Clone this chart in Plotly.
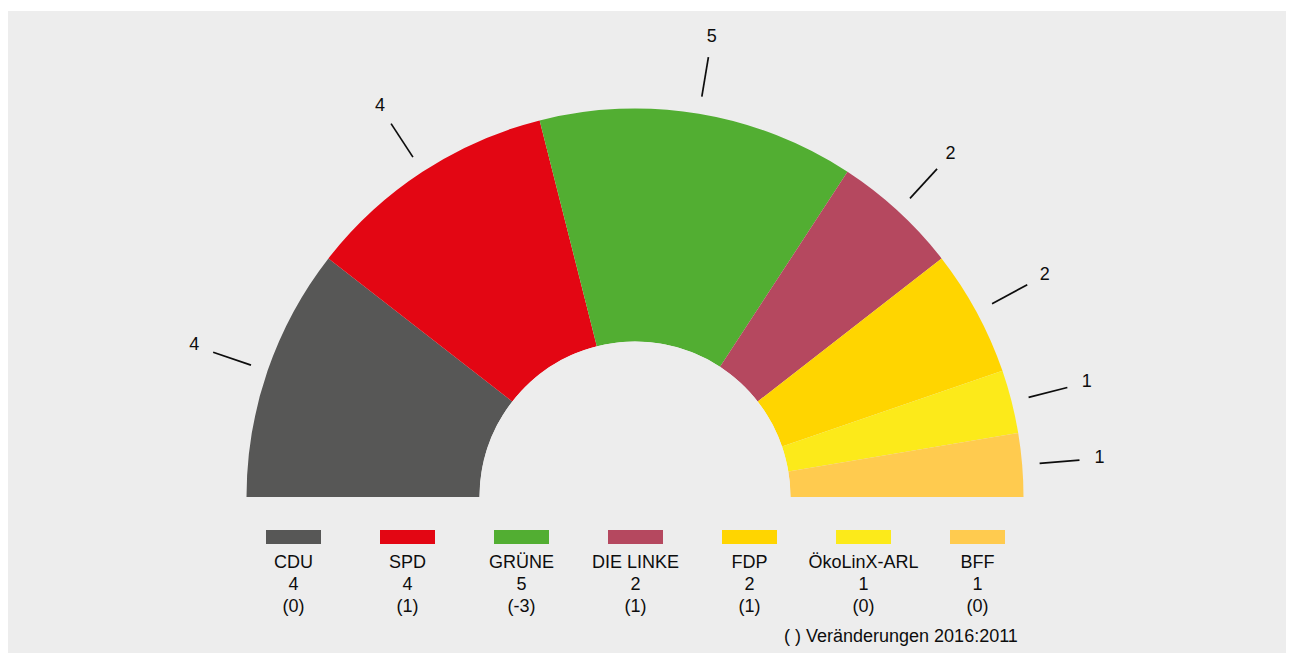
import numpy as np
import plotly.graph_objects as go

# ---- data ----
parties = ["CDU", "SPD", "GRÜNE", "DIE LINKE", "FDP", "ÖkoLinX-ARL", "BFF"]
seats = [4, 4, 5, 2, 2, 1, 1]
changes = ["(0)", "(1)", "(-3)", "(1)", "(1)", "(0)", "(0)"]
colors = ["#575756", "#e30613", "#52ae32", "#b5485f", "#ffd500", "#fcea1a", "#ffcb4f"]
footnote = "( ) Veränderungen 2016:2011"

FONT = "Liberation Sans, Arial, Helvetica, sans-serif"
FS = 18
TXT = "#0d0d0d"

total = sum(seats)
deg_per_seat = 180.0 / total
cum = np.cumsum([0] + seats)
theta_c = [(cum[i] + seats[i] / 2) * deg_per_seat for i in range(len(seats))]
widths = [s * deg_per_seat for s in seats]

# page places the figure 8px from top-left (body margin)
OFF = 8
W, H = 1294 - 2 * OFF, 653 - OFF


def px(x):  # screen x -> paper
    return (x - OFF) / W


def py(y):  # screen y -> paper
    return 1 - (y - OFF) / H


# polar geometry (screen pixels)
cx, cy = 635, 497
R_full = 480.0
R_in = 155.5
R_out = 388.5
hole = R_in / R_full
rmax = (R_full - R_in) / (R_out - R_in)


def rr(p):
    return (p - R_in) / (R_out - R_in)


fig = go.Figure()

fig.add_trace(go.Barpolar(
    r=[1] * len(seats), base=[0] * len(seats), theta=theta_c, width=widths,
    marker=dict(color=colors, line=dict(width=0)),
    hoverinfo="skip", showlegend=False,
))

# leader lines
lr, lt = [], []
for t in theta_c:
    lr += [rr(406), rr(446), None]
    lt += [t, t, None]
fig.add_trace(go.Scatterpolar(
    r=lr, theta=lt, mode="lines", line=dict(color=TXT, width=1.7),
    hoverinfo="skip", showlegend=False,
))
# seat numbers at arc
fig.add_trace(go.Scatterpolar(
    r=[rr(466)] * len(seats), theta=theta_c, mode="text",
    text=[str(s) for s in seats],
    textfont=dict(family=FONT, size=FS, color=TXT),
    textposition="middle center", hoverinfo="skip", showlegend=False,
))

# ---- legend (cartesian) ----
xs = list(range(len(parties)))
fig.add_trace(go.Bar(
    x=xs, y=[14] * len(xs), base=[10] * len(xs), width=55 / 114,
    marker=dict(color=colors, line=dict(width=0)),
    xaxis="x", yaxis="y", hoverinfo="skip", showlegend=False,
))
for yv, txt in [(43.5, parties), (65, [str(s) for s in seats]), (87.5, changes)]:
    fig.add_trace(go.Scatter(
        x=xs, y=[yv] * len(xs), mode="text", text=txt,
        textfont=dict(family=FONT, size=FS, color=TXT),
        textposition="middle center", xaxis="x", yaxis="y",
        hoverinfo="skip", showlegend=False, cliponaxis=False,
    ))

fig.update_layout(
    width=W, height=H,
    margin=dict(l=0, r=0, t=0, b=0),
    paper_bgcolor="white",
    plot_bgcolor="rgba(0,0,0,0)",
    showlegend=False,
    shapes=[dict(type="rect", xref="paper", yref="paper",
                 x0=0, x1=1.0, y0=0, y1=py(11),
                 fillcolor="#ededed", line=dict(width=0), layer="below")],
    polar=dict(
        domain=dict(x=[px(cx - R_full), px(cx + R_full)], y=[py(cy), py(cy - R_full)]),
        sector=[0, 180], hole=hole, bgcolor="rgba(0,0,0,0)",
        radialaxis=dict(visible=False, range=[0, rmax]),
        angularaxis=dict(visible=False, rotation=180, direction="clockwise",
                         thetaunit="degrees"),
    ),
    xaxis=dict(domain=[px(236.5), px(1034.5)], range=[-0.5, 6.5], visible=False,
               fixedrange=True),
    yaxis=dict(domain=[py(650), py(520)], range=[130, 0], visible=False,
               fixedrange=True),
    annotations=[dict(text=footnote, xref="paper", yref="paper",
                      x=px(1020), y=py(636), xanchor="right", yanchor="middle",
                      showarrow=False,
                      font=dict(family=FONT, size=FS, color=TXT))],
)

fig.write_html("out.html")
